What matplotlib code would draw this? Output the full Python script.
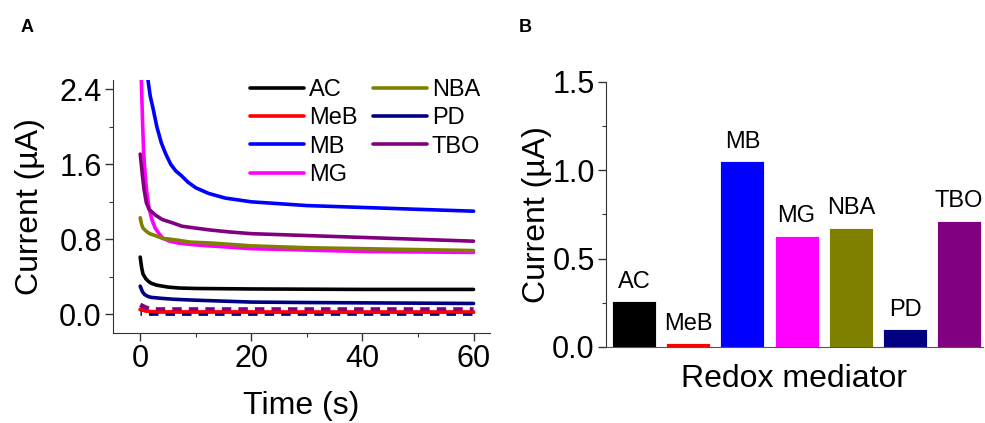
import numpy as np
import matplotlib
matplotlib.use("Agg")
import matplotlib.pyplot as plt
from matplotlib.ticker import MultipleLocator

plt.rcParams['font.family'] = ['Liberation Sans', 'DejaVu Sans']

# ---- Panel A: chronoamperometric current vs time ----
series_names = ["AC", "MeB", "MB", "MG", "NBA", "PD", "TBO"]
series_colors = ["#000000", "#ff0000", "#0000ff", "#ff00ff", "#808000", "#000080", "#800080"]

t_AC = [0, 0.25, 0.5, 1, 1.5, 2, 3, 5, 7, 10, 20, 40, 60]
i_AC = [0.61, 0.50, 0.43, 0.38, 0.35, 0.33, 0.31, 0.29, 0.28, 0.275, 0.27, 0.265, 0.265]

t_MeB = [0, 1, 2, 3, 10, 30, 60]
i_MeB = [0.05, 0.035, 0.028, 0.025, 0.024, 0.023, 0.023]

t_MB = [0, 0.6, 1.0, 1.2, 1.4, 1.8, 2.3, 3.0, 3.8, 4.6, 5.5, 6.4, 7.4, 8.6, 10,
        12.3, 15.3, 20, 25, 30, 40, 50, 60]
i_MB = [4.5, 3.5, 2.9, 2.68, 2.5, 2.33, 2.2, 2.0, 1.83, 1.71, 1.6, 1.53, 1.48, 1.41, 1.35,
        1.29, 1.24, 1.2, 1.18, 1.16, 1.14, 1.12, 1.10]

t_MG = [0, 0.2, 0.4, 0.6, 0.9, 1.2, 1.6, 2.1, 2.7, 3.4, 4.1, 5.3, 6.8, 10, 15, 20,
        30, 40, 50, 60]
i_MG = [3.2, 2.5, 2.1, 1.75, 1.48, 1.3, 1.13, 1.01, 0.92, 0.86, 0.81, 0.78, 0.76, 0.74,
        0.72, 0.70, 0.685, 0.67, 0.665, 0.66]

t_NBA = [0, 0.25, 0.5, 1, 1.7, 2.7, 4, 5.5, 6.8, 9, 12.8, 20, 30, 40, 50, 60]
i_NBA = [1.03, 0.96, 0.92, 0.89, 0.86, 0.84, 0.81, 0.80, 0.79, 0.77, 0.76, 0.73, 0.71,
         0.70, 0.69, 0.68]

t_PD = [0, 0.4, 0.8, 1.4, 2, 3.8, 6, 10, 15, 20, 30, 45, 60]
i_PD = [0.30, 0.24, 0.21, 0.19, 0.18, 0.17, 0.16, 0.15, 0.14, 0.13, 0.125, 0.12, 0.115]

t_TBO = [0, 0.2, 0.4, 0.7, 1.1, 1.6, 2.7, 4, 5.6, 7.5, 9.9, 12.5, 15.8, 20, 30, 40, 50, 60]
i_TBO = [1.71, 1.6, 1.48, 1.33, 1.19, 1.12, 1.06, 1.01, 0.98, 0.94, 0.92, 0.90, 0.88,
         0.86, 0.84, 0.82, 0.80, 0.78]

# blank (no mediator) traces
t_blank_TBO = [0, 1, 2, 60]
i_blank_TBO = [0.10, 0.07, 0.05, 0.05]
t_blank_PD = [0, 60]
i_blank_PD = [0.01, 0.01]

# ---- Panel B: steady-state current per mediator ----
bar_values = [0.26, 0.02, 1.05, 0.63, 0.675, 0.10, 0.715]

fig = plt.figure(figsize=(9.85, 4.23), dpi=100)

axA = fig.add_axes([0.1147, 0.2128, 0.383, 0.598])
axB = fig.add_axes([0.615, 0.1797, 0.383, 0.6265])

lw = 2.6
curves = [(t_AC, i_AC), (t_MeB, i_MeB), (t_MB, i_MB), (t_MG, i_MG),
          (t_NBA, i_NBA), (t_PD, i_PD), (t_TBO, i_TBO)]
handles = []
for (t, i), name, col in zip(curves, series_names, series_colors):
    h, = axA.plot(t, i, color=col, lw=lw, label=name, solid_capstyle='round',
                  solid_joinstyle='round')
    handles.append(h)

axA.plot(t_blank_TBO, i_blank_TBO, color="#800080", lw=3.4, ls=(0, (2.0, 1.5)), zorder=3)
axA.plot(t_blank_PD, i_blank_PD, color="#000080", lw=3.4, ls=(1.7, (2.0, 1.5)), zorder=2)
axA.plot(t_MeB, i_MeB, color="#ff0000", lw=2.2, zorder=4)

axA.set_xlim(-4.9, 63)
axA.set_ylim(-0.2, 2.5)
axA.set_xticks([0, 20, 40, 60])
axA.set_yticks([0.0, 0.8, 1.6, 2.4])
axA.xaxis.set_minor_locator(MultipleLocator(10))
axA.yaxis.set_minor_locator(MultipleLocator(0.4))
axA.set_xlabel("Time (s)", fontsize=23, labelpad=12)
axA.set_ylabel("Current (µA)", fontsize=23, labelpad=10)

axA.legend(handles=handles, ncol=2, loc='upper left', bbox_to_anchor=(0.338, 1.04),
           frameon=False, fontsize=17, handlelength=2.3, handletextpad=0.2,
           columnspacing=0.65, labelspacing=0.26, borderaxespad=0)

x = np.arange(len(series_names))
axB.bar(x, bar_values, width=0.81, color=series_colors, edgecolor='white', linewidth=0.6)
for xi, v, name in zip(x, bar_values, series_names):
    axB.annotate(name, (xi, v), xytext=(0, 6), textcoords='offset points',
                 ha='center', va='bottom', fontsize=17)
axB.set_xlim(-0.52, 6.44)
axB.set_ylim(0, 1.5)
axB.set_yticks([0.0, 0.5, 1.0, 1.5])
axB.yaxis.set_minor_locator(MultipleLocator(0.25))
axB.set_xticks([])
axB.set_xlabel("Redox mediator", fontsize=23, labelpad=12)
axB.set_ylabel("Current (µA)", fontsize=23, labelpad=0)
axB.spines['bottom'].set_color('#555555')

for ax in (axA, axB):
    ax.spines['top'].set_visible(False)
    ax.spines['right'].set_visible(False)
    ax.spines['left'].set_color('#333333')
    if ax is axA:
        ax.spines['bottom'].set_color('#333333')
    ax.tick_params(which='major', direction='out', length=6, width=1, labelsize=22,
                   color='#333333', pad=2)
    ax.tick_params(which='minor', direction='out', length=3, width=0.8, color='#333333')

axB.tick_params(axis='x', which='both', length=0)

fig.text(0.021, 0.925, "A", fontsize=13, fontweight='bold')
fig.text(0.527, 0.925, "B", fontsize=13, fontweight='bold')

fig.savefig("out.png", dpi=100)
